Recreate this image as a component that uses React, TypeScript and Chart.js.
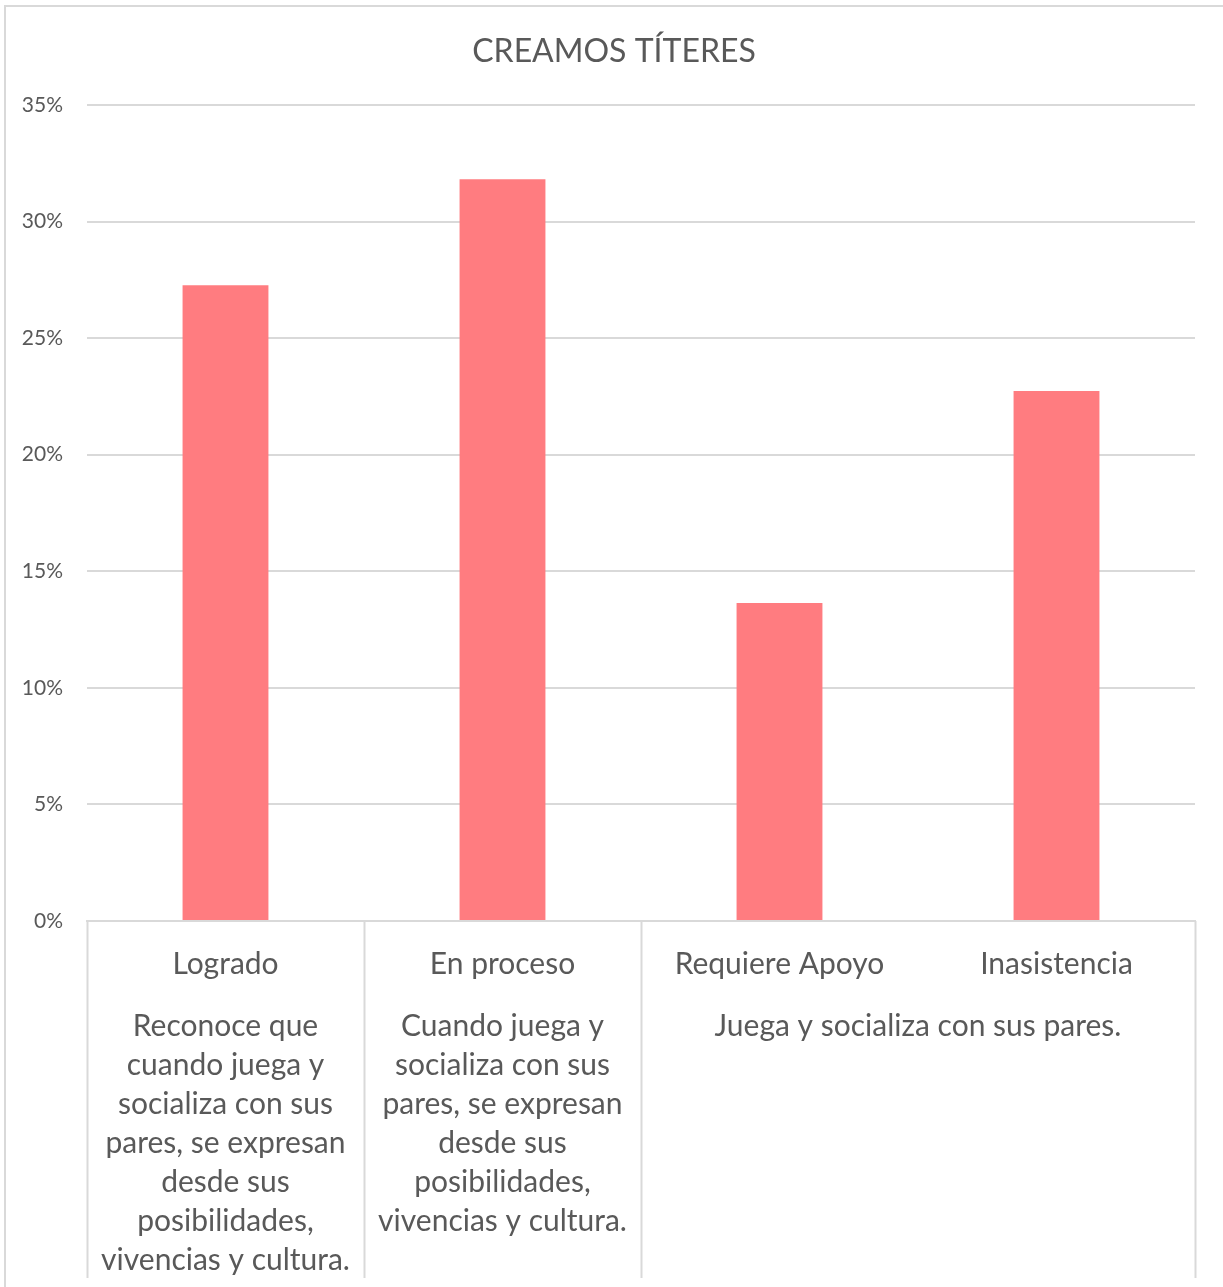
import React, { useEffect, useRef } from "react";
import { Chart, registerables } from "chart.js";

Chart.register(...registerables);

const TITLE = "CREAMOS TÍTERES";
const categories = ["Logrado", "En proceso", "Requiere Apoyo", "Inasistencia"];
const values = [27.27, 31.82, 13.64, 22.73];
const groupLines = [
  ["Reconoce que", "cuando juega y", "socializa con sus", "pares, se expresan", "desde sus", "posibilidades,", "vivencias y cultura."],
  ["Cuando juega y", "socializa con sus", "pares, se expresan", "desde sus", "posibilidades,", "vivencias y cultura."],
  ["Juega y socializa con sus pares."],
];
const groupSpans = [1, 1, 2];
const yTicks = [0, 5, 10, 15, 20, 25, 30, 35];

const FONT = "Lato, 'Open Sans', sans-serif";
const TEXT = "#595959";
const LINE = "#d9d9d9";

const W = 1223;
const H = 1287;

const extrasPlugin = {
  id: "extras",
  beforeDraw(chart: any) {
    const ctx = chart.ctx;
    ctx.save();
    ctx.strokeStyle = LINE;
    ctx.lineWidth = 2;
    ctx.beginPath();
    ctx.moveTo(5, H);
    ctx.lineTo(5, 6);
    ctx.lineTo(W, 6);
    ctx.stroke();
    // title
    ctx.fillStyle = TEXT;
    ctx.font = `32px ${FONT}`;
    ctx.textAlign = "center";
    ctx.textBaseline = "middle";
    ctx.fillText(TITLE, 614, 52);
    ctx.restore();
  },
  afterDraw(chart: any) {
    const ctx = chart.ctx;
    const x = chart.scales.x;
    const area = chart.chartArea;
    const n = categories.length;
    const step = (x.getPixelForValue(n - 1) - x.getPixelForValue(0)) / (n - 1);
    const edge = (i: number) => x.getPixelForValue(i) - step / 2;
    ctx.save();
    ctx.strokeStyle = LINE;
    ctx.lineWidth = 2;
    let idx = 0;
    const bounds: number[] = [0];
    groupSpans.forEach((s) => {
      idx += s;
      bounds.push(idx);
    });
    bounds.forEach((b) => {
      const px = Math.round(edge(b)) + 0.5;
      ctx.beginPath();
      ctx.moveTo(px, area.bottom);
      ctx.lineTo(px, 1278);
      ctx.stroke();
    });
    ctx.fillStyle = TEXT;
    ctx.font = `30px ${FONT}`;
    ctx.textAlign = "center";
    ctx.textBaseline = "middle";
    groupLines.forEach((lines, g) => {
      const cx = (edge(bounds[g]) + edge(bounds[g + 1])) / 2;
      lines.forEach((ln, k) => {
        ctx.fillText(ln, cx, 1026 + k * 39);
      });
    });
    ctx.restore();
  },
};

export default function App() {
  const ref = useRef<HTMLCanvasElement | null>(null);
  useEffect(() => {
    document.body.style.margin = "0";
    const canvas = ref.current!;
    const chart = new Chart(canvas, {
      type: "bar",
      data: {
        labels: categories,
        datasets: [
          {
            data: values,
            backgroundColor: "#FF7C80",
            borderWidth: 0,
            categoryPercentage: 1,
            barPercentage: 0.31,
          },
        ],
      },
      options: {
        animation: false,
        responsive: false,
        maintainAspectRatio: false,
        devicePixelRatio: 1,
        layout: { padding: { left: 0, right: 28, top: 105, bottom: 0 } },
        plugins: {
          legend: { display: false },
          tooltip: { enabled: false },
          title: { display: false },
        },
        scales: {
          x: {
            grid: { display: false, drawTicks: false },
            border: { display: true, color: LINE, width: 2 },
            ticks: {
              color: TEXT,
              font: { family: FONT, size: 30 },
              padding: 25,
              maxRotation: 0,
              autoSkip: false,
            },
            afterFit(scale: any) {
              scale.height = H - 921;
            },
          },
          y: {
            min: 0,
            max: 35,
            afterBuildTicks(scale: any) {
              scale.ticks = yTicks.map((v) => ({ value: v }));
            },
            grid: { color: LINE, lineWidth: 2, drawTicks: false },
            border: { display: false },
            ticks: {
              color: TEXT,
              font: { family: FONT, size: 21 },
              padding: 24,
              callback: (v: any) => `${v}%`,
            },
            afterFit(scale: any) {
              scale.width = 87;
            },
          },
        },
      },
      plugins: [extrasPlugin],
    });
    return () => chart.destroy();
  }, []);
  return (
    <div style={{ width: W, height: H }}>
      <canvas ref={ref} width={W} height={H} style={{ display: "block", width: W, height: H }} />
    </div>
  );
}
